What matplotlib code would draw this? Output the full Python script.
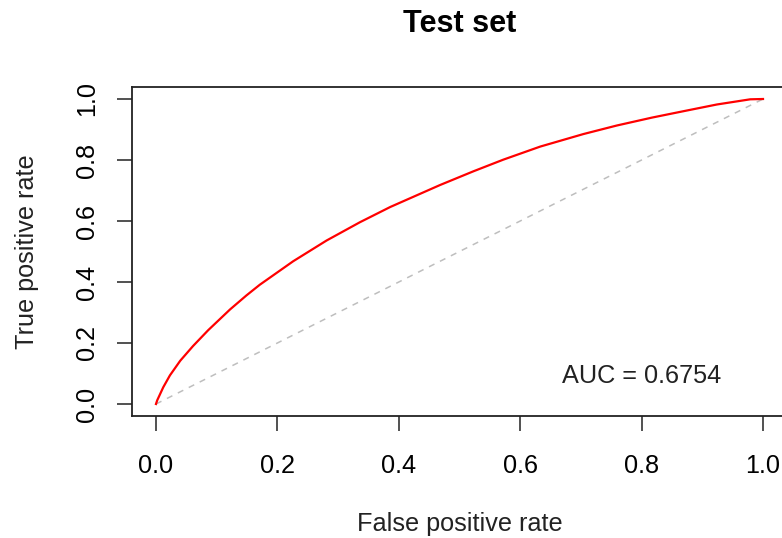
import matplotlib
matplotlib.use("Agg")
import matplotlib.pyplot as plt

plt.rcParams['font.family'] = ['Liberation Sans', 'DejaVu Sans']

# ROC curve points
fpr = [0.0, 0.002, 0.012, 0.023, 0.040, 0.061, 0.086, 0.122, 0.149, 0.171, 0.226,
       0.281, 0.336, 0.386, 0.468, 0.523, 0.572, 0.633, 0.704, 0.759, 0.817,
       0.869, 0.924, 0.979, 1.0]
tpr = [0.0, 0.012, 0.055, 0.094, 0.142, 0.190, 0.242, 0.310, 0.356, 0.391, 0.468,
       0.536, 0.596, 0.646, 0.718, 0.763, 0.801, 0.844, 0.885, 0.913, 0.939,
       0.960, 0.982, 0.999, 1.0]
ticks = [0.0, 0.2, 0.4, 0.6, 0.8, 1.0]
tick_labels = ["0.0", "0.2", "0.4", "0.6", "0.8", "1.0"]
auc_text = "AUC = 0.6754"

W, H = 782, 538
fig = plt.figure(figsize=(W / 100, H / 100), dpi=100)
left, right, top, bottom = 131.7, 787.3, 86.8, 416.2
ax = fig.add_axes([left / W, 1 - bottom / H, (right - left) / W, (bottom - top) / H])

ax.plot([0, 1], [0, 1], color='#BEBEBE', lw=1.1, linestyle=(0, (4, 4)))
ax.plot(fpr, tpr, color='#FF0000', lw=1.6)

ax.set_xlim(-0.04, 1.04)
ax.set_ylim(-0.04, 1.04)
ax.set_xticks(ticks)
ax.set_xticklabels(tick_labels)
ax.set_yticks(ticks)
ax.set_yticklabels(tick_labels, rotation=90, va='center')
fs = 18.2
ax.tick_params(axis='both', length=11, width=1.1, labelsize=fs, color='#222222')
ax.tick_params(axis='x', pad=16)
ax.tick_params(axis='y', pad=12.5)
for s in ax.spines.values():
    s.set_linewidth(1.3)
    s.set_color('#222222')

ax.text(0.8, 0.092, auc_text, ha='center', va='center', fontsize=fs, color='#222222')

ax.set_xlabel("False positive rate", fontsize=fs, va='center', color='#222222')
ax.xaxis.set_label_coords(0.5, (bottom - 524) / (bottom - top))
ax.set_ylabel("True positive rate", fontsize=fs, va='center', color='#222222')
ax.yaxis.set_label_coords((27 - left) / (right - left), 0.5)

fig.text((left + right) / 2 / W, 1 - 24 / H, "Test set", ha='center', va='center',
         fontsize=22, fontweight='bold', color='black')

fig.savefig("out.png", dpi=100)
